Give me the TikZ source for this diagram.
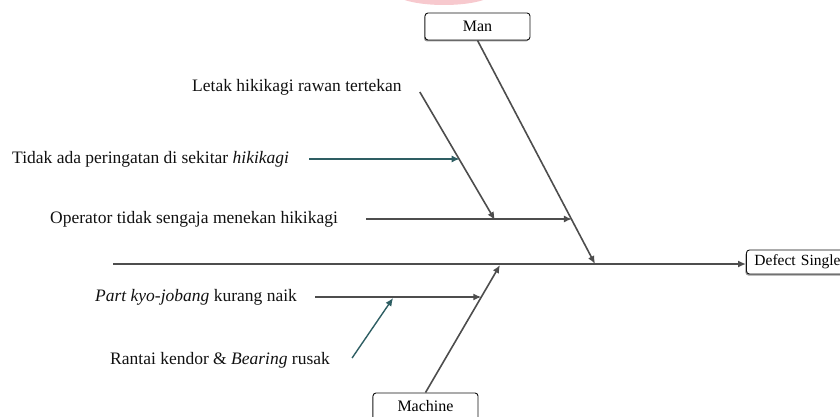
\documentclass[tikz,border=0pt]{standalone}
\usepackage{fontspec}
\setmainfont{Liberation Serif}
\usepackage{tikz}
\usetikzlibrary{arrows.meta,positioning,calc,shadows}
\definecolor{bone}{HTML}{4D4D4D}
\definecolor{subteal}{HTML}{2E5E63}
\definecolor{blush}{HTML}{F7C9CE}
\definecolor{ink}{HTML}{111111}
\tikzset{
  >={Latex[length=8pt,width=7pt]},
  boneflow/.style={->,line width=1.6pt,draw=bone},
  tealflow/.style={->,line width=1.4pt,draw=subteal},
  catbox/.style={rounded corners=3pt,draw=ink,line width=0.9pt,fill=white,
    minimum width=105pt,minimum height=27pt,inner sep=0pt,font=\fontsize{16}{18}\selectfont,
    drop shadow={shadow xshift=-1pt,shadow yshift=-1.5pt,fill=black!50,opacity=0.8}},
  cause/.style={inner sep=0pt,anchor=west,font=\fontsize{17.5}{20}\selectfont,text=ink}
}

\begin{document}
\begin{tikzpicture}[x=1pt,y=-1pt]
  \clip (0,0) rectangle (840,417);
  \fill[blush] (444,-8) ellipse [x radius=50pt,y radius=13pt];

  \node[catbox] (man) at (477.5,26.5) {Man};
  \node[catbox] (machine) at (425.5,406.5) {Machine};
  \node[catbox,minimum height=24pt,anchor=west,text width=100pt,align=left,inner xsep=8pt,
    font=\fontsize{15.5}{18}\selectfont] (defect) at (746,262) {Defect Single};

  \node[cause] (letak) at (192,87) {Letak hikikagi rawan tertekan};
  \node[cause] (tidak) at (12,159) {Tidak ada peringatan di sekitar \textit{hikikagi}};
  \node[cause] (oper) at (50,219) {Operator tidak sengaja menekan hikikagi};
  \node[cause] (part) at (95,297) {\textit{Part kyo-jobang} kurang naik};
  \node[cause] (rantai) at (110,360) {Rantai kendor \& \textit{Bearing} rusak};

  % spine and main bones
  \coordinate (tail) at (113,264);
  \coordinate (manE) at (595,264);
  \coordinate (machE) at (500,265);
  \draw[boneflow] (tail) -- (tail -| defect.west);
  \draw[boneflow] (man.south) -- (manE);
  \draw[boneflow] (machine.north) -- (machE);

  % sub causes
  \coordinate (manHit) at ($(man.south)!0.804!(manE)$);
  \coordinate (machHit) at ($(machine.north)!0.75!(machE)$);
  \coordinate (operS) at ([xshift=28pt]oper.east);
  \coordinate (partS) at ([xshift=18pt]part.east);
  \draw[boneflow] (operS) -- (operS -| manHit);
  \draw[boneflow] (partS) -- (partS -| machHit);

  \coordinate (letakS) at ($(letak.east)+(18,5)$);
  \coordinate (letakE) at ($(letakS)+(75,128)$);
  \draw[boneflow] (letakS) -- (letakE);
  \coordinate (letakHit) at ($(letakS)!0.531!(letakE)$);
  \coordinate (tidakS) at ([xshift=20pt]tidak.east);
  \draw[tealflow] (tidakS) -- (tidakS -| letakHit);

  \coordinate (rantaiS) at ($(rantai.east)+(22,-2)$);
  \coordinate (rantaiE) at ($(rantaiS)+(41,-60)$);
  \draw[tealflow] (rantaiS) -- (rantaiE);
\end{tikzpicture}
\end{document}
